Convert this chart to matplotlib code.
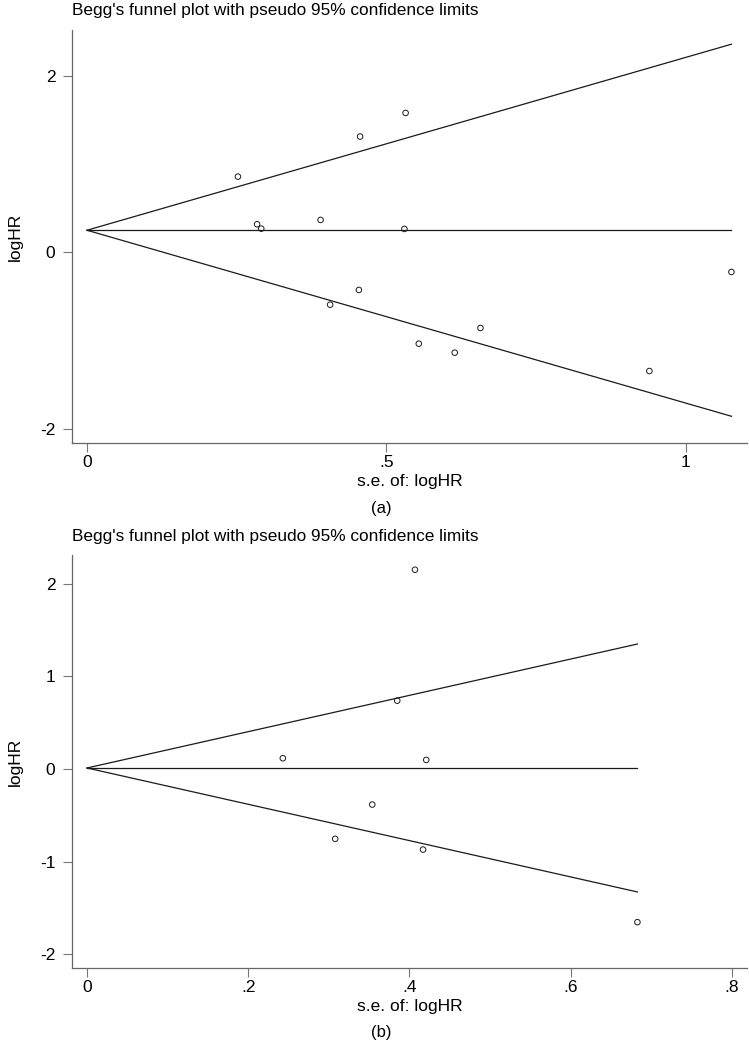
import matplotlib
matplotlib.use("Agg")
import matplotlib.pyplot as plt
import numpy as np

plt.rcParams['font.family'] = ['Liberation Sans', 'DejaVu Sans']

# Panel (a) data
se_a = [0.252, 0.284, 0.291, 0.390, 0.456, 0.532, 0.530, 0.454, 0.406, 0.657, 0.554, 0.614, 0.939, 1.076]
loghr_a = [0.858, 0.318, 0.268, 0.367, 1.312, 1.580, 0.265, -0.427, -0.594, -0.858, -1.036, -1.138, -1.346, -0.223]
pooled_a = 0.25

# Panel (b) data
se_b = [0.407, 0.385, 0.243, 0.421, 0.354, 0.308, 0.417, 0.683]
loghr_b = [2.151, 0.737, 0.115, 0.097, -0.385, -0.755, -0.871, -1.655]
pooled_b = 0.01

title = "Begg's funnel plot with pseudo 95% confidence limits"
xlab = "s.e. of: logHR"
ylab = "logHR"

xticks_a = [0, 0.5, 1]
xticklabels_a = ["0", ".5", "1"]
yticks_a = [-2, 0, 2]
xticks_b = [0, 0.2, 0.4, 0.6, 0.8]
xticklabels_b = ["0", ".2", ".4", ".6", ".8"]
yticks_b = [-2, -1, 0, 1, 2]

W, H = 749, 1043
fig = plt.figure(figsize=(W/100, H/100), dpi=100)

def px_axes(l, t, r, b):
    return fig.add_axes([l/W, 1 - b/H, (r-l)/W, (b-t)/H])

def funnel(ax, se, y, pooled, xlim, ylim, xticks, xtl, yticks):
    smax = max(se)
    xs = np.array([0, smax])
    lc = '#1a1a1a'
    ax.plot(xs, pooled + 1.96*xs, color=lc, lw=0.9)
    ax.plot(xs, pooled - 1.96*xs, color=lc, lw=0.9)
    ax.plot(xs, [pooled, pooled], color=lc, lw=0.9)
    ax.scatter(se, y, s=16, facecolors='none', edgecolors='#1a1a1a', linewidths=0.7, zorder=3)
    ax.set_xlim(*xlim)
    ax.set_ylim(*ylim)
    ax.set_xticks(xticks)
    ax.set_xticklabels(xtl)
    ax.set_yticks(yticks)
    ax.set_yticklabels([str(v) for v in yticks])
    for s in ['top', 'right']:
        ax.spines[s].set_visible(False)
    for s in ['left', 'bottom']:
        ax.spines[s].set_color('#666666')
        ax.spines[s].set_linewidth(0.9)
    ax.tick_params(axis='y', direction='out', length=6.5, width=0.8, color='#777777',
                   labelsize=12.5, pad=5.5)
    ax.tick_params(axis='x', direction='out', length=6.5, width=0.8, color='#777777',
                   labelsize=12.5, pad=2)
    ax.set_xlabel(xlab, fontsize=12.5, labelpad=3)
    ax.set_ylabel(ylab, fontsize=12.5)
    ax.yaxis.set_label_coords(-0.0726, 0.5)

ax1 = px_axes(72, 30, 747, 443)
funnel(ax1, se_a, loghr_a, pooled_a, (-0.025, 1.102), (-2.162, 2.52),
       xticks_a, xticklabels_a, yticks_a)
fig.text(72/W, 1 - 11/H, title, ha='left', va='center', fontsize=12.4)
fig.text(381/W, 1 - 508/H, "(a)", ha='center', va='center', fontsize=12)

ax2 = px_axes(72, 555, 747, 968)
funnel(ax2, se_b, loghr_b, pooled_b, (-0.0186, 0.819), (-2.15, 2.31),
       xticks_b, xticklabels_b, yticks_b)
fig.text(72/W, 1 - 536/H, title, ha='left', va='center', fontsize=12.4)
fig.text(381/W, 1 - 1033/H, "(b)", ha='center', va='center', fontsize=12)

fig.savefig("out.png", dpi=100)
